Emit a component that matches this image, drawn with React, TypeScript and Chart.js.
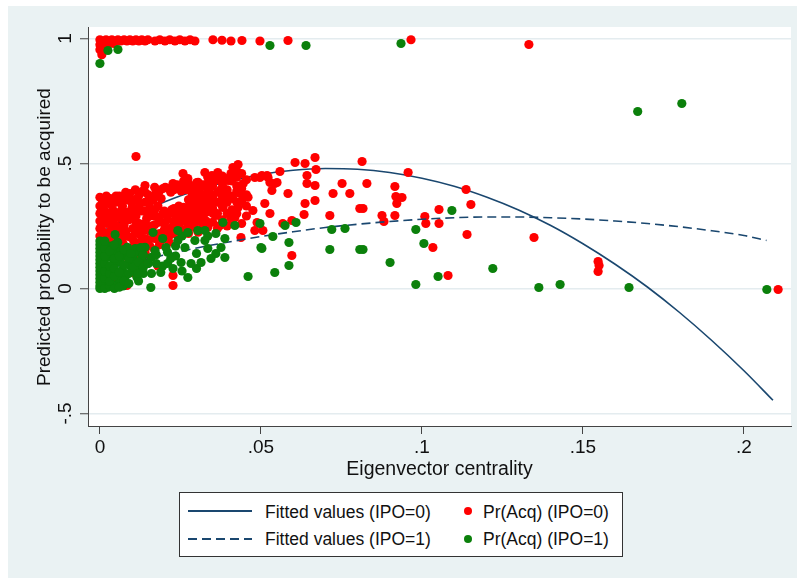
import React, { useEffect, useRef } from "react";
import { Chart, registerables } from "chart.js";

Chart.register(...registerables);

const FONT = '"Liberation Sans", Arial, Helvetica, sans-serif';
const NAVY = "#1a476f";
const RED = "#ff0000";
const GREEN = "#0b800b";
const AXIS = "#444444";
const GRID = "#e4ecef";
const OUTER_BG = "#eaf2f3";

const X_TICKS = [0, 0.05, 0.1, 0.15, 0.2];
const X_TICK_LABELS = ["0", ".05", ".1", ".15", ".2"];
const Y_TICKS = [-0.5, 0, 0.5, 1];
const Y_TICK_LABELS = ["-.5", "0", ".5", "1"];

const X_TITLE = "Eigenvector centrality";
const Y_TITLE = "Predicted probability to be acquired";

// Fitted values (IPO=0), solid
const FIT0_X = [0, 0.01, 0.02, 0.03, 0.04, 0.05, 0.06, 0.07, 0.08, 0.09, 0.1, 0.11, 0.12, 0.13, 0.14, 0.15, 0.16, 0.17, 0.18, 0.19, 0.2, 0.209];
const FIT0_Y = [0.224, 0.29, 0.346, 0.393, 0.429, 0.456, 0.473, 0.48, 0.477, 0.464, 0.441, 0.409, 0.366, 0.314, 0.252, 0.179, 0.097, 0.006, -0.096, -0.208, -0.329, -0.447];

// Fitted values (IPO=1), dashed
const FIT1_X = [0, 0.01, 0.02, 0.03, 0.04, 0.05, 0.06, 0.07, 0.08, 0.09, 0.1, 0.11, 0.12, 0.13, 0.14, 0.15, 0.16, 0.17, 0.18, 0.19, 0.2, 0.207];
const FIT1_Y = [0.072, 0.104, 0.134, 0.162, 0.186, 0.208, 0.227, 0.244, 0.257, 0.268, 0.277, 0.283, 0.286, 0.286, 0.283, 0.278, 0.27, 0.26, 0.247, 0.231, 0.212, 0.192];

// Pr(Acq) (IPO=0) — red points [x, y]
const PR_IPO0: [number, number][] = [
  [0, 0.995], [0, 0.975], [0, 0.955], [0.0006, 0.935], [0.0009, 0.99], [0.0012, 0.965], [0.0019, 0.995], [0.0025, 0.975],
  [0.0028, 0.99], [0.0037, 0.995], [0.0043, 0.98], [0.0047, 0.99], [0.0056, 0.995], [0.0065, 0.99], [0.0075, 0.995],
  [0.0084, 0.99], [0.0093, 0.995], [0.0102, 0.99], [0.0112, 0.995], [0.0121, 0.99], [0.013, 0.995], [0.014, 0.99],
  [0.0149, 0.995], [0.0171, 0.99], [0.0186, 0.995], [0.0202, 0.99], [0.0217, 0.995], [0.0233, 0.99], [0.0248, 0.995],
  [0.0264, 0.99], [0.028, 0.995], [0.0295, 0.99], [0.0351, 0.995], [0.0379, 0.993], [0.0407, 0.99], [0.0441, 0.992],
  [0.0497, 0.99], [0.0584, 0.992], [0.0966, 0.995], [0.1332, 0.976],
  [0, 0.365], [0, 0.33], [0, 0.3], [0, 0.27], [0, 0.24], [0, 0.21], [0.0008, 0.35], [0.001, 0.285], [0.0012, 0.225],
  [0.0015, 0.31], [0.002, 0.26], [0.0022, 0.34], [0.0025, 0.195], [0.003, 0.29], [0.0032, 0.36], [0.0035, 0.235],
  [0.004, 0.315], [0.0042, 0.27], [0.0045, 0.205], [0.005, 0.345], [0.0052, 0.25], [0.0055, 0.3], [0.006, 0.37],
  [0.0062, 0.22], [0.0065, 0.28], [0.007, 0.33], [0.0072, 0.18], [0.0075, 0.255], [0.008, 0.355], [0.0082, 0.305],
  [0.0085, 0.21], [0.009, 0.275], [0.0093, 0.38], [0.0095, 0.16], [0.01, 0.325], [0.0102, 0.24], [0.0105, 0.19],
  [0.011, 0.355], [0.0112, 0.29], [0.0115, 0.135], [0.012, 0.37], [0.0122, 0.26], [0.0125, 0.215], [0.013, 0.31],
  [0.0133, 0.39], [0.0135, 0.17], [0.014, 0.345], [0.0142, 0.235], [0.0145, 0.28], [0.015, 0.375], [0.0152, 0.195],
  [0.0155, 0.32], [0.016, 0.25], [0.0165, 0.355], [0.017, 0.29], [0.0172, 0.215], [0.0175, 0.39], [0.018, 0.33],
  [0.0183, 0.265], [0.0186, 0.185], [0.019, 0.36], [0.0195, 0.3], [0.02, 0.235], [0.0203, 0.405],
  [0.021, 0.275], [0.0215, 0.21], [0.022, 0.385], [0.0223, 0.315], [0.0228, 0.25], [0.0236, 0.29],
  [0.024, 0.415], [0.0245, 0.33], [0.0248, 0.225], [0.0252, 0.39], [0.0256, 0.27], [0.0265, 0.305],
  [0.027, 0.395], [0.0273, 0.245], [0.0278, 0.33], [0.0282, 0.28], [0.0286, 0.37], [0.029, 0.31], [0.0295, 0.345],
  [0.03, 0.27], [0.0305, 0.39], [0.031, 0.325], [0.0318, 0.295], [0.0325, 0.355], [0.033, 0.27],
  [0.0005, 0.19], [0.0005, 0.255], [0.0005, 0.32], [0.002, 0.215], [0.002, 0.3], [0.002, 0.37], [0.0035, 0.185],
  [0.0035, 0.265], [0.0035, 0.335], [0.005, 0.225], [0.005, 0.29], [0.005, 0.37], [0.0065, 0.195], [0.0065, 0.245],
  [0.0065, 0.31], [0.0065, 0.36], [0.008, 0.165], [0.008, 0.23], [0.008, 0.285], [0.008, 0.385], [0.0095, 0.205],
  [0.0095, 0.3], [0.0095, 0.35], [0.011, 0.155], [0.011, 0.22], [0.011, 0.27], [0.011, 0.32], [0.011, 0.395],
  [0.0125, 0.185], [0.0125, 0.245], [0.0125, 0.34], [0.014, 0.145], [0.014, 0.2], [0.014, 0.26], [0.014, 0.31],
  [0.014, 0.385], [0.0155, 0.17], [0.0155, 0.23], [0.0155, 0.29], [0.0155, 0.345], [0.017, 0.155], [0.017, 0.2],
  [0.017, 0.255], [0.017, 0.315], [0.017, 0.37], [0.017, 0.405], [0.0185, 0.175], [0.0185, 0.22], [0.0185, 0.285],
  [0.0185, 0.39], [0.02, 0.2], [0.02, 0.26], [0.02, 0.31], [0.0215, 0.185], [0.0215, 0.24], [0.0215, 0.3],
  [0.0215, 0.4], [0.023, 0.22], [0.023, 0.27], [0.023, 0.32], [0.023, 0.395], [0.0245, 0.205], [0.0245, 0.255],
  [0.0245, 0.3], [0.0245, 0.41], [0.026, 0.235], [0.026, 0.28], [0.026, 0.325], [0.026, 0.4], [0.026, 0.43],
  [0.0275, 0.22], [0.0275, 0.265], [0.0275, 0.305], [0.0275, 0.355], [0.0275, 0.42], [0.029, 0.245], [0.029, 0.29],
  [0.029, 0.33], [0.029, 0.38], [0.029, 0.41], [0.0305, 0.225], [0.0305, 0.3], [0.0305, 0.36], [0.0305, 0.425],
  [0.032, 0.25], [0.032, 0.285], [0.032, 0.33], [0.032, 0.375], [0.032, 0.415], [0.0335, 0.245], [0.0335, 0.31],
  [0.0335, 0.35], [0.0335, 0.4], [0.0335, 0.445], [0.035, 0.265], [0.035, 0.32], [0.035, 0.365], [0.035, 0.41],
  [0.0365, 0.24], [0.0365, 0.3], [0.0365, 0.345], [0.0365, 0.385], [0.0365, 0.435], [0.038, 0.275], [0.038, 0.33],
  [0.038, 0.37], [0.038, 0.42], [0.038, 0.45], [0.0395, 0.25], [0.0395, 0.3], [0.0395, 0.345], [0.0395, 0.395],
  [0.041, 0.265], [0.041, 0.315], [0.041, 0.37], [0.041, 0.43], [0.0425, 0.3], [0.0425, 0.345], [0.0425, 0.39],
  [0.0425, 0.445], [0.0425, 0.47], [0.044, 0.26], [0.044, 0.35], [0.044, 0.4], [0.044, 0.46], [0.0455, 0.29],
  [0.0455, 0.375], [0.0455, 0.435],
  [0.001, 0.12], [0.0087, 0.124], [0.0227, 0.052], [0.0084, 0.012], [0.004, 0.024], [0.014, 0.112], [0.0035, 0.07],
  [0.011, 0.06], [0.018, 0.09], [0.0062, 0.15], [0.0087, 0.14], [0.0227, 0.012],
  [0.0438, 0.204], [0.0407, 0.28], [0.036, 0.292], [0.0329, 0.304], [0.032, 0.264], [0.0295, 0.26], [0.0481, 0.232],
  [0.0419, 0.284], [0.0373, 0.252], [0.0345, 0.33], [0.0385, 0.35], [0.0455, 0.33], [0.046, 0.365], [0.0425, 0.41],
  [0.0375, 0.395], [0.034, 0.385], [0.0445, 0.42], [0.0395, 0.44], [0.031, 0.4],
  [0.0112, 0.528], [0.014, 0.412], [0.0196, 0.4], [0.0227, 0.42], [0.0258, 0.46], [0.0273, 0.44], [0.0301, 0.424],
  [0.0326, 0.464], [0.0335, 0.42], [0.0348, 0.452], [0.0366, 0.464], [0.0413, 0.484], [0.0429, 0.496], [0.0407, 0.46],
  [0.0481, 0.444], [0.0503, 0.452], [0.0522, 0.444], [0.0559, 0.468], [0.0606, 0.504], [0.0637, 0.5], [0.0668, 0.524],
  [0.0671, 0.476], [0.0643, 0.42], [0.0668, 0.412], [0.0724, 0.38], [0.0752, 0.42], [0.0776, 0.38], [0.0807, 0.32],
  [0.0714, 0.292], [0.0668, 0.352], [0.0637, 0.34], [0.0634, 0.296], [0.0584, 0.38], [0.055, 0.424], [0.0534, 0.392],
  [0.0512, 0.34], [0.0528, 0.3], [0.0475, 0.312], [0.0435, 0.38], [0.0429, 0.324], [0.0413, 0.36], [0.0394, 0.372],
  [0.0351, 0.3], [0.0351, 0.344], [0.0382, 0.324], [0.0311, 0.352], [0.0332, 0.38], [0.0351, 0.424], [0.0398, 0.432],
  [0.0382, 0.404], [0.0506, 0.232], [0.0488, 0.264], [0.0596, 0.132], [0.0596, 0.272], [0.0568, 0.26],
  [0.0519, 0.452], [0.0497, 0.444], [0.0528, 0.424], [0.0543, 0.42], [0.0643, 0.452],
  [0.0814, 0.508], [0.0829, 0.42], [0.0817, 0.32], [0.0876, 0.292], [0.0882, 0.268], [0.0916, 0.408], [0.0919, 0.368],
  [0.0938, 0.364], [0.0922, 0.34], [0.0916, 0.292], [0.0957, 0.464], [0.1009, 0.288], [0.1012, 0.26], [0.1034, 0.164],
  [0.1053, 0.316], [0.1053, 0.26], [0.1137, 0.396], [0.1152, 0.336], [0.114, 0.216], [0.1081, 0.052], [0.1348, 0.204],
  [0.1547, 0.108], [0.155, 0.092], [0.1547, 0.068], [0.2106, -0.004],
];

// Pr(Acq) (IPO=1) — green points [x, y]
const PR_IPO1: [number, number][] = [
  [0, 0.9], [0.0025, 0.952], [0.0056, 0.956], [0.0528, 0.972], [0.064, 0.972], [0.0935, 0.98], [0.167, 0.708], [0.1807, 0.74],
  [0, 0.19], [0, 0.16], [0, 0.13], [0, 0.1], [0, 0.07], [0, 0.04], [0, 0.01], [0, 0], [0.0008, 0.175], [0.001, 0.115],
  [0.0012, 0.055], [0.0015, 0.025], [0.002, 0.145], [0.0022, 0.085], [0.0025, 0.005], [0.003, 0.17], [0.0032, 0.125],
  [0.0035, 0.045], [0.004, 0.095], [0.0042, 0.155], [0.0045, 0.015], [0.005, 0.065], [0.0052, 0.135], [0.0055, 0.185],
  [0.006, 0.035], [0.0062, 0.105], [0.0065, 0.155], [0.007, 0.075], [0.0072, 0.01], [0.0075, 0.13], [0.008, 0.05],
  [0.0085, 0.165], [0.009, 0.095], [0.0095, 0.14], [0.01, 0.07], [0.0105, 0.115], [0.011, 0.16], [0.0115, 0.045],
  [0.012, 0.145], [0.0125, 0.09], [0.013, 0.12], [0.0135, 0.06], [0.014, 0.165], [0.015, 0.1], [0.004, 0.012],
  [0, 0.025], [0, 0.055], [0, 0.085], [0, 0.115], [0, 0.145], [0, 0.175], [0.0015, 0.0], [0.0015, 0.04],
  [0.0015, 0.07], [0.0015, 0.1], [0.0015, 0.13], [0.0015, 0.16], [0.0015, 0.19], [0.003, 0.01], [0.003, 0.03],
  [0.003, 0.06], [0.003, 0.09], [0.003, 0.15], [0.0045, 0.0], [0.0045, 0.05], [0.0045, 0.08], [0.0045, 0.12],
  [0.0045, 0.175], [0.006, 0.005], [0.006, 0.065], [0.006, 0.13], [0.0075, 0.03], [0.0075, 0.095], [0.0075, 0.155],
  [0.009, 0.02], [0.009, 0.06], [0.009, 0.12], [0.0105, 0.085], [0.0105, 0.14], [0.012, 0.03], [0.012, 0.105],
  [0.0135, 0.085], [0.0135, 0.135], [0.016, 0.06], [0.016, 0.125], [0.0175, 0.1], [0.0175, 0.135], [0.0195, 0.09],
  [0.0195, 0.2], [0.021, 0.145], [0.021, 0.1], [0.0235, 0.13], [0.0235, 0.17], [0.0255, 0.07], [0.0255, 0.21],
  [0.03, 0.14], [0.03, 0.08], [0.0335, 0.21], [0.0335, 0.16], [0.036, 0.22], [0.036, 0.14],
  [0.0047, 0.216], [0.0165, 0.224], [0.0242, 0.232], [0.0273, 0.224], [0.0304, 0.232], [0.0326, 0.232], [0.0382, 0.264],
  [0.0419, 0.252], [0.0388, 0.2], [0.0376, 0.164], [0.0345, 0.12], [0.0388, 0.124], [0.0314, 0.104], [0.0283, 0.1],
  [0.0252, 0.104], [0.022, 0.12], [0.0189, 0.064], [0.0273, 0.044], [0.0158, 0.004], [0.0227, 0.08], [0.0118, 0.06],
  [0.0149, 0.1], [0.0096, 0.14], [0.0127, 0.164], [0.0171, 0.152], [0.0205, 0.164], [0.0242, 0.192], [0.0264, 0.164],
  [0.0295, 0.192], [0.0326, 0.192], [0.046, 0.048], [0.05, 0.164], [0.0497, 0.26], [0.0503, 0.16], [0.0537, 0.208],
  [0.0575, 0.252], [0.0609, 0.264], [0.0587, 0.184], [0.0587, 0.092], [0.0543, 0.064], [0.0714, 0.156], [0.072, 0.236],
  [0.0761, 0.24], [0.0807, 0.156], [0.0817, 0.156], [0.0901, 0.104], [0.0981, 0.236], [0.1006, 0.18], [0.0981, 0.016],
  [0.105, 0.048], [0.1093, 0.312], [0.122, 0.08], [0.1363, 0.004], [0.1429, 0.016], [0.1643, 0.004], [0.2071, -0.004],
];

const toPts = (xs: number[], ys: number[]) => xs.map((x, i) => ({ x, y: ys[i] }));
const pairPts = (arr: [number, number][]) => arr.map(([x, y]) => ({ x, y }));

export default function App() {
  const ref = useRef<HTMLCanvasElement>(null);

  useEffect(() => {
    const canvas = ref.current;
    if (!canvas) return;
    const bgPlugin = {
      id: "stataBg",
      beforeDraw(c: any) {
        const { ctx, chartArea: a } = c;
        ctx.save();
        ctx.fillStyle = "#ffffff";
        ctx.fillRect(0, 0, c.width, c.height);
        ctx.fillStyle = OUTER_BG;
        ctx.fillRect(8, 6, 789, 572);
        ctx.fillStyle = "#ffffff";
        ctx.fillRect(a.left, a.top, a.right - a.left, a.bottom - a.top);
        ctx.restore();
      },
    };
    const chart = new Chart(canvas, {
      type: "scatter",
      data: {
        datasets: [
          {
            label: "Fitted values (IPO=0)",
            data: toPts(FIT0_X, FIT0_Y),
            showLine: true,
            pointRadius: 0,
            borderColor: NAVY,
            borderWidth: 1.6,
            cubicInterpolationMode: "monotone",
            order: 3,
          },
          {
            label: "Pr(Acq) (IPO=0)",
            data: pairPts(PR_IPO0),
            pointRadius: 4.6,
            pointBackgroundColor: RED,
            pointBorderColor: RED,
            pointBorderWidth: 0,
            backgroundColor: RED,
            order: 2,
          },
          {
            label: "Fitted values (IPO=1)",
            data: toPts(FIT1_X, FIT1_Y),
            showLine: true,
            pointRadius: 0,
            borderColor: NAVY,
            borderWidth: 1.6,
            borderDash: [9, 5],
            cubicInterpolationMode: "monotone",
            order: 1,
          },
          {
            label: "Pr(Acq) (IPO=1)",
            data: pairPts(PR_IPO1),
            pointRadius: 4.6,
            pointBackgroundColor: GREEN,
            pointBorderColor: GREEN,
            pointBorderWidth: 0,
            backgroundColor: GREEN,
            order: 0,
          },
        ],
      } as any,
      options: {
        responsive: false,
        animation: false,
        devicePixelRatio: 1,
        layout: { padding: { top: 27, right: 8, left: 0, bottom: 0 } },
        plugins: { legend: { display: false }, tooltip: { enabled: false } },
        scales: {
          x: {
            type: "linear",
            min: -0.0037,
            max: 0.2146,
            afterBuildTicks: (s: any) => {
              s.ticks = X_TICKS.map((v) => ({ value: v }));
            },
            afterFit: (s: any) => {
              s.height = 152;
              s.paddingLeft = 0;
              s.paddingRight = 0;
            },
            grid: { drawOnChartArea: false, drawTicks: true, tickLength: 8, tickColor: AXIS, tickWidth: 1 },
            border: { display: true, color: AXIS, width: 1 },
            ticks: {
              font: { family: FONT, size: 19 },
              color: "#111111",
              padding: 2,
              maxRotation: 0,
              autoSkip: false,
              callback: (_v: any, i: number) => X_TICK_LABELS[i],
            },
            title: {
              display: true,
              text: X_TITLE,
              font: { family: FONT, size: 19.5 },
              color: "#111111",
              padding: { top: 0, bottom: 97 },
            },
          },
          y: {
            type: "linear",
            min: -0.55,
            max: 1.046,
            afterBuildTicks: (s: any) => {
              s.ticks = Y_TICKS.map((v) => ({ value: v }));
            },
            afterFit: (s: any) => {
              s.width = 88;
              s.paddingTop = 0;
              s.paddingBottom = 0;
            },
            grid: { color: GRID, lineWidth: 1.5, drawTicks: true, tickLength: 8, tickColor: AXIS, tickWidth: 1 },
            border: { display: true, color: AXIS, width: 1 },
            ticks: {
              font: { family: FONT, size: 19 },
              color: "#111111",
              minRotation: 90,
              maxRotation: 90,
              crossAlign: "center",
              padding: 3,
              autoSkip: false,
              callback: (_v: any, i: number) => Y_TICK_LABELS[i],
            },
            title: {
              display: true,
              text: Y_TITLE + "    ",
              font: { family: FONT, size: 19 },
              color: "#111111",
              padding: { top: 33, bottom: 0 },
            },
          },
        },
      } as any,
      plugins: [bgPlugin],
    });
    return () => chart.destroy();
  }, []);

  const textStyle: React.CSSProperties = {
    position: "absolute",
    fontFamily: FONT,
    fontSize: "17.5px",
    color: "#111",
    lineHeight: "20px",
    height: 20,
    whiteSpace: "nowrap",
  };

  return (
    <div style={{ position: "fixed", left: 0, top: 0, width: 799, height: 578, background: "#fff", overflow: "hidden" }}>
      <canvas ref={ref} width={799} height={578} style={{ display: "block", width: 799, height: 578 }} />
      <div
        style={{
          position: "absolute",
          left: 179,
          top: 492,
          width: 444,
          height: 65,
          boxSizing: "border-box",
          border: "1px solid #333",
          background: "#fff",
        }}
      />
      <svg style={{ position: "absolute", left: 0, top: 0 }} width={799} height={578}>
        <line x1={188} y1={511} x2={252} y2={511} stroke={NAVY} strokeWidth={2} />
        <line x1={188} y1={539} x2={252} y2={539} stroke={NAVY} strokeWidth={2} strokeDasharray="9 5" />
        <circle cx={468} cy={511} r={4} fill={RED} />
        <circle cx={468} cy={539} r={4} fill={GREEN} />
      </svg>
      <div style={{ ...textStyle, left: 265, top: 502 }}>Fitted values (IPO=0)</div>
      <div style={{ ...textStyle, left: 265, top: 529 }}>Fitted values (IPO=1)</div>
      <div style={{ ...textStyle, left: 483, top: 502 }}>Pr(Acq) (IPO=0)</div>
      <div style={{ ...textStyle, left: 483, top: 529 }}>Pr(Acq) (IPO=1)</div>
    </div>
  );
}
